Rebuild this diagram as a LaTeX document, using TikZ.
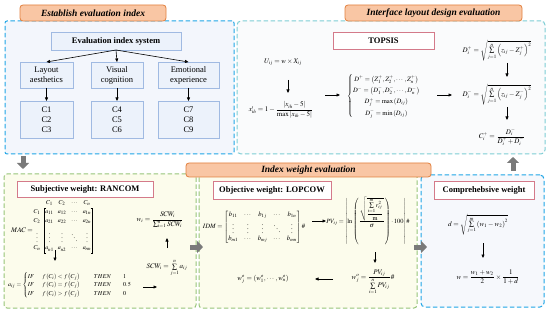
\documentclass[tikz,border=0pt]{standalone}
\usepackage{amsmath}
\usepackage{mathptmx}
\usepackage{fontspec}
\setmainfont{Liberation Serif}
\usetikzlibrary{arrows.meta,calc,matrix}
\definecolor{bblue}{RGB}{30,165,230}
\definecolor{tteal}{RGB}{125,205,212}
\definecolor{ggreen}{RGB}{150,196,120}
\definecolor{tlfill}{RGB}{243,246,252}
\definecolor{trfill}{RGB}{250,251,252}
\definecolor{byfill}{RGB}{252,252,236}
\definecolor{brfill}{RGB}{246,248,252}
\definecolor{taborange}{RGB}{226,128,62}
\definecolor{tabfill}{RGB}{249,198,164}
\definecolor{iboxline}{RGB}{160,186,226}
\definecolor{iboxfill}{RGB}{236,242,251}
\definecolor{titlered}{RGB}{212,122,138}
\definecolor{garrow}{RGB}{122,122,122}
\newcommand{\fs}{\fontsize{7}{8}\selectfont}
\newcommand{\fsm}{\fontsize{6}{7}\selectfont}
\tikzset{
  every node/.style={inner sep=0pt, outer sep=0pt},
  dbox/.style={rectangle, dash pattern=on 4.5pt off 2.5pt, line width=1pt, rounded corners=3pt},
  tabbox/.style={draw=taborange, fill=tabfill, line width=0.8pt, rounded corners=3pt,
    font=\fontsize{9.5}{11}\selectfont\bfseries\itshape},
  ibox/.style={draw=iboxline, fill=iboxfill, line width=0.8pt, align=center,
    font=\fontsize{8.5}{10}\selectfont},
  tbox/.style={draw=titlered, fill=white, line width=0.8pt,
    font=\fontsize{8.5}{10}\selectfont\bfseries},
  fml/.style={font=\fs},
  arr/.style={-{Triangle[length=3.5pt,width=3pt]}, line width=0.6pt, black},
  garr/.style={-{Triangle[length=6pt,width=12pt]}, line width=5pt, garrow},
}
\begin{document}
\begin{tikzpicture}[x=1pt,y=-1pt]
\useasboundingbox (0,0) rectangle (550,313);
% ---------- outer boxes
\node[dbox, draw=bblue, fill=tlfill, rounded corners=2pt, minimum width=229pt, minimum height=133pt] (tlbox) at (119.5,87.5) {};
\node[dbox, draw=tteal, fill=trfill, rounded corners=4pt, minimum width=308pt, minimum height=133pt] (trbox) at (391,87.5) {};
\node[dbox, draw=ggreen, fill=byfill, minimum width=192pt, minimum height=134pt] (blbox) at (100,241) {};
\node[dbox, draw=ggreen, fill=byfill, minimum width=218pt, minimum height=134pt] (bmbox) at (308,241) {};
\node[dbox, draw=bblue, fill=brfill, rounded corners=4pt, minimum width=123pt, minimum height=132pt] (brbox) at (482.5,241) {};
% ---------- tabs
\node[tabbox, minimum width=146pt, minimum height=16pt] (tab1) at (93,13) {Establish evaluation index};
\node[tabbox, minimum width=177pt, minimum height=16pt] (tab2) at (433.5,13) {Interface layout design evaluation};
\node[tabbox, minimum width=245pt, minimum height=14pt] (tab3) at (308.5,170) {Index weight evaluation};
% ---------- gray block arrows
\draw[garr] ($(tlbox.south west)+(18,2)$) -- ($(blbox.north west)+(19,-5)$);
\draw[garr] ($(brbox.north west)+(92,-4)$) -- ($(trbox.south west)+(276,3)$);
\draw[garr] ($(blbox.east)+(-6,6)$) -- ($(bmbox.west)+(4,6)$);
\draw[garr] ($(bmbox.east)+(-3,6)$) -- ($(brbox.west)+(6,6)$);
% ---------- evaluation index system
\node[ibox, font=\fontsize{8.5}{10}\selectfont\bfseries, minimum width=130pt, minimum height=18pt] (ies) at (116,41) {Evaluation index system};
\node[ibox, minimum width=53pt, minimum height=26pt] (la) at (46.5,75) {Layout\\aesthetics};
\node[ibox, minimum width=52pt, minimum height=26pt] (vc) at (117,75) {Visual\\cognition};
\node[ibox, minimum width=61pt, minimum height=26pt] (ee) at (188.5,75) {Emotional\\experience};
\node[ibox, minimum width=53pt, minimum height=37pt] (c1) at (46.5,119.5) {C1\\C2\\C3};
\node[ibox, minimum width=52pt, minimum height=37pt] (c4) at (117,119.5) {C4\\C5\\C6};
\node[ibox, minimum width=61pt, minimum height=37pt] (c7) at (188.5,119.5) {C7\\C8\\C9};
\draw[arr] (ies.south) -- (la.north);
\draw[arr] (ies.south) -- (vc.north);
\draw[arr] (ies.south) -- (ee.north);
\draw[arr] (la) -- (c1);
\draw[arr] (vc) -- (c4);
\draw[arr] (ee) -- (c7);
% ---------- TOPSIS
\node[tbox, minimum width=101pt, minimum height=17pt] (topsis) at (383.5,40.5) {TOPSIS};
\node[fml] (U) at (283,62) {$U_{ij}=w\times X_{ij}$};
\node[fml] (xp) at (281,110) {$x'_{ih}=1-\dfrac{\left|x_{ih}-5\right|}{\max\left|x_{ih}-5\right|}$};
\node[fml, font=\fontsize{6.6}{7.5}\selectfont] (sys) at (384,96) {$\renewcommand{\arraystretch}{1.5}\left\{\begin{array}{@{}c@{}}
  D^{+}=\left(Z_1^{+},Z_2^{+},\cdots,Z_n^{+}\right)\\
  D^{-}=\left(D_1^{-},D_2^{-},\cdots,D_n^{-}\right)\\
  D_j^{+}=\max\left(D_{ij}\right)\\
  D_j^{-}=\min\left(D_{ij}\right)\end{array}\right.$};
\node[fml] (Dplus) at (497,51) {$D_i^{+}=\sqrt{\sum\limits_{j=1}^{n}\left(z_{ij}-Z_j^{+}\right)^2}$};
\node[fml] (Dminus) at (497,95) {$D_i^{-}=\sqrt{\sum\limits_{j=1}^{n}\left(z_{ij}-Z_j^{-}\right)^2}$};
\node[fml] (Cp) at (502,137) {$C_i^{+}=\dfrac{D_i^{-}}{D_i^{+}+D_i^{-}}$};
\draw[arr] ($(U)+(5,18)$) -- ($(xp)+(7,-17)$);
\draw[arr] ($(xp)+(44,-15)$) -- ($(sys)+(-44,-1)$);
\draw[arr] ($(sys)+(53,-1)$) -- ($(Dminus)+(-45,0)$);
\draw[arr] ($(Dplus)+(10,12)$) -- ($(Dminus)+(10,-18)$);
\draw[arr] ($(Dminus)+(10,12)$) -- ($(Cp)+(5,-17)$);
% ---------- RANCOM
\node[tbox, minimum width=136pt, minimum height=16pt] (rancom) at (85,189) {Subjective weight: RANCOM};
\node[fml] (macl) at (22,230) {$MAC=$};
\matrix[matrix of math nodes, nodes={font=\fsm, minimum width=10pt, minimum height=6pt},
  column sep=2.5pt, row sep=2.8pt] (mac) at (62,226) {
   & C_1 & C_2 & \cdots & C_n \\
  C_1 & a_{11} & a_{12} & \cdots & a_{1n} \\
  C_2 & a_{21} & a_{22} & \cdots & a_{2n} \\
  \vdots & \vdots & \vdots & \ddots & \vdots \\
  C_n & a_{n1} & a_{n2} & \cdots & a_{nn} \\
};
\draw[line width=0.4pt] ($(mac-2-2.north west)+(1.5,-1)$) -- ++(-1.5,0) |- ($(mac-5-2.south west)+(1.5,1)$);
\draw[line width=0.4pt] ($(mac-2-5.north east)+(-1.5,-1)$) -- ++(1.5,0) |- ($(mac-5-5.south east)+(-1.5,1)$);
\node[fml, font=\fsm] (aij) at (70,285) {$a_{ij}=\left\{\renewcommand{\arraystretch}{1.25}\begin{array}{@{}l@{\hspace{8pt}}l@{\hspace{14pt}}l@{\hspace{12pt}}l@{}}
  IF & f\left(C_i\right)<f\left(C_j\right) & THEN & 1\\
  IF & f\left(C_i\right)=f\left(C_j\right) & THEN & 0.5\\
  IF & f\left(C_i\right)>f\left(C_j\right) & THEN & 0\end{array}\right.$};
\node[fml] (wi) at (160,220) {$w_i=\dfrac{SCW_i}{\sum_{i=1}^{n}SCW_i}$};
\node[fml] (scw) at (167,268) {$SCW_i=\sum\limits_{j=1}^{n}a_{ij}$};
\draw[arr] ($(mac)+(-7,24)$) -- ($(aij)+(-15,-24)$);
\draw[arr] ($(aij)+(73,2)$) -- ($(scw)+(-10,19)$);
\draw[arr] ($(scw)+(0,-20)$) -- ($(wi)+(7,18)$);
% ---------- LOPCOW
\node[tbox, minimum width=118pt, minimum height=18pt] (lopcow) at (272,190) {Objective weight: LOPCOW};
\node[fml, font=\fontsize{6.6}{7.5}\selectfont] (idm) at (254,227) {$\setlength{\arraycolsep}{3pt}IDM=\begin{bmatrix} b_{11}&\cdots&b_{1j}&\cdots&b_{1n}\\ \vdots&\vdots&\vdots&\ddots&\vdots\\ b_{m1}&\cdots&b_{mj}&\cdots&b_{mn}\end{bmatrix}\#$};
\node[fml, font=\fontsize{6.4}{7.5}\selectfont] (pv) at (368,221) {$PV_{ij}=\left|\ln\left(\dfrac{\sqrt{\dfrac{\sum\limits_{i=1}^{m}r_{ij}^2}{\mathrm{m}}}}{\sigma}\right)\cdot 100\right|\#$};
\node[fml] (wjo) at (373,282) {$w_j^{o}=\dfrac{PV_{ij}}{\sum\limits_{i=1}^{n}PV_{ij}}\#$};
\node[fml] (wvec) at (263,279) {$w_j^{o}=\left(w_1^{o},\cdots,w_n^{o}\right)$};
\draw[arr] ($(idm)+(58,-6)$) -- ($(pv)+(-42,0)$);
\draw[arr] ($(pv)+(7,31)$) -- ($(wjo)+(2,-19)$);
\draw[arr] ($(wjo)+(-40,-3)$) -- ($(wvec)+(52,0)$);
% ---------- Comprehensive
\node[tbox, minimum width=100pt, minimum height=18pt] (comp) at (484,190) {Comprehebsive weight};
\node[fml] (dd) at (478,225) {$d=\sqrt{\sum\limits_{j=1}^{m}\left(w_1-w_2\right)^2}$};
\node[fml] (ww) at (488,277) {$w=\dfrac{w_1+w_2}{2}\times\dfrac{1}{1+d}$};
\draw[arr] ($(dd)+(5,18)$) -- ($(ww)+(-5,-19)$);
\end{tikzpicture}
\end{document}
